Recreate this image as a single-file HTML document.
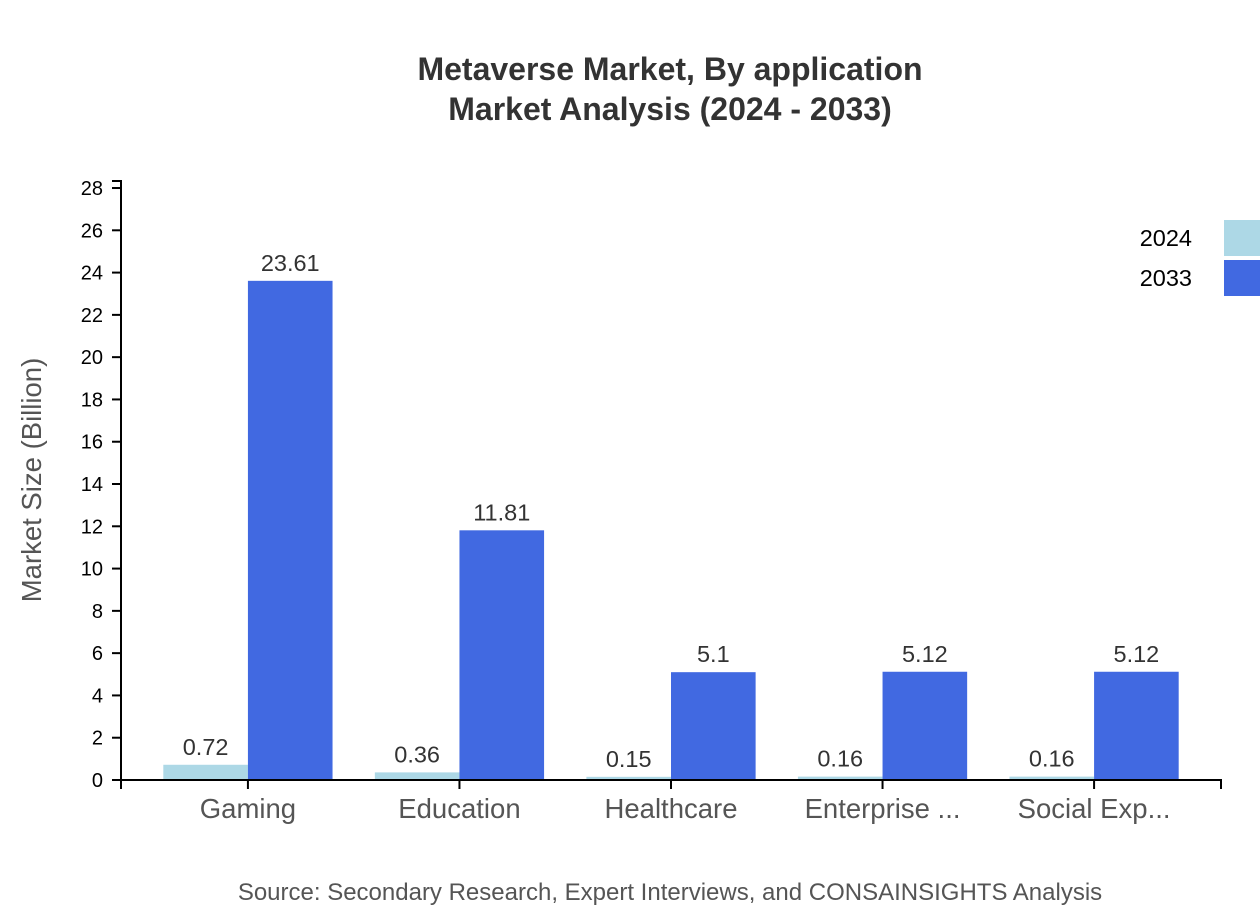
<!DOCTYPE html>
<html><head><meta charset="utf-8"><style>
body{margin:0;background:#fff;}
svg{display:block;font-family:"Liberation Sans",Arial,sans-serif;}
</style></head><body>
<svg id="chart" width="1260" height="920">
<text x="670" y="80" text-anchor="middle" font-size="32" font-weight="bold" fill="#333">Metaverse Market, By application</text>
<text x="670" y="120" text-anchor="middle" font-size="32" font-weight="bold" fill="#333">Market Analysis (2024 - 2033)</text>
<text transform="translate(41,480) rotate(-90)" text-anchor="middle" font-size="27.5" fill="#555">Market Size (Billion)</text>
<text x="670" y="900" text-anchor="middle" font-size="24" fill="#555">Source: Secondary Research, Expert Interviews, and CONSAINSIGHTS Analysis</text>
<g id="plot"></g>
</svg>
<script>
const categories=["Gaming","Education","Healthcare","Enterprise ...","Social Exp..."];
const values2024=[0.72,0.36,0.15,0.16,0.16];
const values2033=[23.61,11.81,5.1,5.12,5.12];
const seriesNames=["2024","2033"];
const yTicks=[0,2,4,6,8,10,12,14,16,18,20,22,24,26,28];
const NS="http://www.w3.org/2000/svg";
const g=document.getElementById('plot');
const L=121,R=1221,B=780,T=181;
const yMax=Math.max(...values2033,...values2024)*1.2;
const y=v=>B-v/yMax*(B-T);
const step=(R-L)/(categories.length+0.2);
const band=step*0.8;
const xc=i=>L+step*0.1+step*(i+0.5);
function el(t,a,txt){const e=document.createElementNS(NS,t);for(const k in a)e.setAttribute(k,a[k]);if(txt!=null)e.textContent=txt;g.appendChild(e);return e;}
const colors=["#add8e6","#4169e1"];
categories.forEach((c,i)=>{
 [values2024,values2033].forEach((arr,s)=>{
  const x=xc(i)-band/2+s*band/2;
  const r=el('rect',{x:x,y:y(arr[i]),width:band/2,height:B-y(arr[i]),fill:colors[s]});
  
  
  const t=el('text',{x:x+band/4,y:y(arr[i])-10,'text-anchor':'middle','font-size':23.5,fill:'#333'},String(arr[i]));
  
  
 });
 const tk=el('line',{x1:xc(i),x2:xc(i),y1:B,y2:B+9,stroke:'#000','stroke-width':2});
 
 
 const lb=el('text',{x:xc(i),y:B+38,'text-anchor':'middle','font-size':27.5,fill:'#555'},c);
 
 
});
yTicks.forEach(v=>{
 const tk=el('line',{x1:L-9,x2:L,y1:y(v),y2:y(v),stroke:'#000','stroke-width':2});
 
 
 const lb=el('text',{x:L-18,y:y(v)+7,'text-anchor':'end','font-size':20,fill:'#000'},String(v));
 
 
});
const ya=el('path',{d:`M${L-9},${T}H${L}V${B}H${L-9}`,fill:'none',stroke:'#000','stroke-width':2});


const xa=el('path',{d:`M${L},${B+9}V${B}H${R}V${B+9}`,fill:'none',stroke:'#000','stroke-width':2});


seriesNames.forEach((n,s)=>{
 const r=el('rect',{x:1224,y:220+s*40,width:40,height:36,fill:colors[s]});
 
 
 const t=el('text',{x:1192,y:246+s*40,'text-anchor':'end','font-size':23.5,fill:'#000'},n);
 
 
});
</script>
</body></html>
